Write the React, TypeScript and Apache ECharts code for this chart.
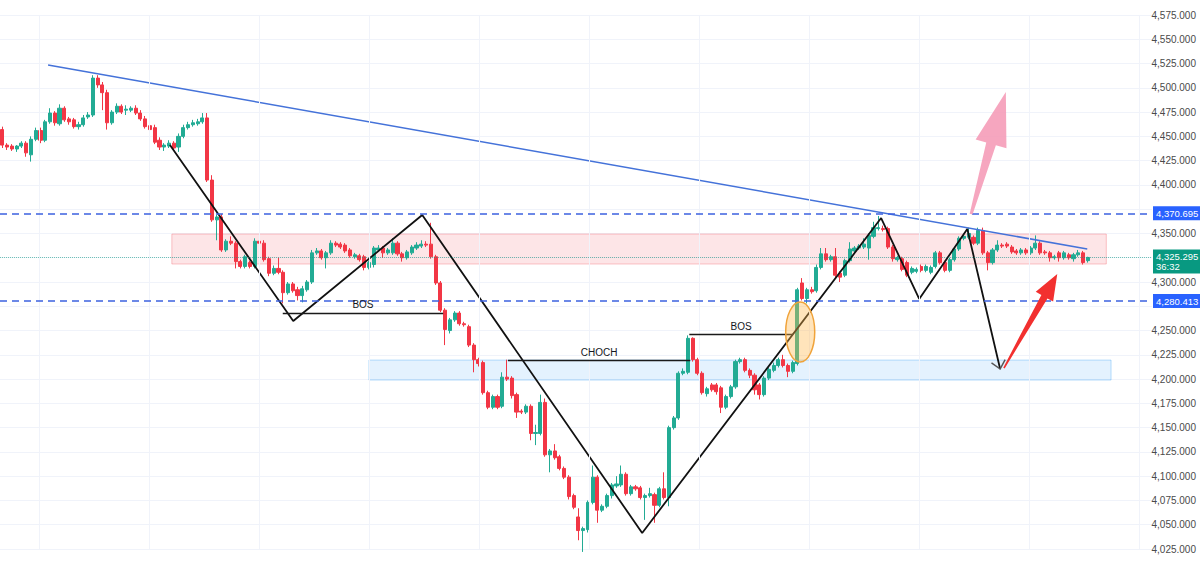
import React, { useEffect, useRef } from 'react';
import * as echarts from 'echarts';

// ---------------- DATA ----------------
const CATEGORY_COUNT = 242; // candle slots incl. right-side empty space

// candles: [open, close, low, high]
const segTop: number[][] = [
  [4457, 4441, 4438, 4460], [4441, 4439, 4436, 4443], [4440, 4437, 4435, 4442], [4437, 4440, 4434, 4441],
  [4440, 4443, 4438, 4445], [4443, 4433, 4429, 4445], [4431, 4447, 4424, 4450], [4447, 4456, 4445, 4459],
  [4456, 4446, 4443, 4459], [4446, 4465, 4444, 4467], [4465, 4474, 4463, 4479], [4474, 4464, 4461, 4476],
  [4463, 4479, 4461, 4483], [4479, 4467, 4465, 4481], [4468, 4465, 4462, 4470], [4467, 4460, 4458, 4469],
  [4460, 4462, 4457, 4465], [4462, 4469, 4460, 4472], [4470, 4472, 4468, 4475], [4472, 4510, 4470, 4513],
  [4510, 4503, 4500, 4513], [4503, 4495, 4477, 4506], [4495, 4464, 4457, 4498], [4464, 4475, 4462, 4477],
  [4475, 4481, 4473, 4484], [4481, 4475, 4473, 4483], [4477, 4478, 4472, 4482], [4477, 4479, 4475, 4481],
  [4479, 4474, 4472, 4482], [4474, 4468, 4466, 4477], [4468, 4460, 4458, 4471], [4461, 4457, 4454, 4463],
  [4459, 4444, 4442, 4462], [4446, 4439, 4436, 4449], [4439, 4441, 4435, 4443], [4440, 4443, 4438, 4446],
  [4443, 4438, 4436, 4445], [4439, 4450, 4434, 4453], [4450, 4459, 4448, 4462], [4459, 4462, 4457, 4465],
  [4462, 4464, 4460, 4467], [4463, 4465, 4461, 4468], [4465, 4469, 4463, 4474],
];
const segRange: number[][] = [
  [4469, 4405, 4403, 4474], [4405, 4364, 4362, 4410], [4364, 4367, 4343, 4369], [4367, 4333, 4331, 4370],
  [4333, 4342, 4331, 4344], [4342, 4340, 4338, 4347], [4340, 4321, 4314, 4342], [4321, 4316, 4314, 4323],
  [4316, 4326, 4314, 4328], [4320, 4316, 4314, 4322], [4316, 4342, 4314, 4345], [4342, 4340, 4337, 4351],
  [4340, 4323, 4321, 4343], [4324, 4309, 4306, 4326], [4309, 4314, 4307, 4317], [4314, 4310, 4308, 4325],
  [4310, 4289, 4278, 4312], [4289, 4298, 4287, 4300], [4298, 4291, 4289, 4300], [4292, 4286, 4281, 4295],
  [4286, 4293, 4279, 4296], [4292, 4300, 4290, 4302], [4300, 4330, 4298, 4333], [4330, 4332, 4328, 4335],
  [4332, 4325, 4323, 4334], [4325, 4330, 4314, 4332], [4330, 4340, 4328, 4343], [4340, 4338, 4336, 4342],
  [4339, 4336, 4334, 4341], [4338, 4332, 4330, 4340], [4333, 4327, 4325, 4335], [4326, 4328, 4324, 4330],
  [4327, 4323, 4321, 4329], [4326, 4315, 4312, 4328], [4315, 4320, 4313, 4322], [4318, 4335, 4315, 4337],
  [4333, 4335, 4331, 4338], [4335, 4330, 4325, 4337], [4330, 4333, 4328, 4335], [4330, 4340, 4328, 4345],
  [4340, 4329, 4327, 4342], [4329, 4325, 4321, 4331], [4325, 4331, 4323, 4333], [4330, 4336, 4328, 4338],
  [4335, 4338, 4333, 4341], [4337, 4339, 4335, 4343], [4339, 4338, 4336, 4342],
];
const segDrop: number[][] = [
  [4339, 4326, 4324, 4361], [4326, 4299, 4297, 4328], [4299, 4271, 4269, 4301], [4271, 4251, 4235, 4273],
  [4250, 4261, 4247, 4263], [4261, 4268, 4259, 4270], [4268, 4257, 4255, 4270], [4257, 4256, 4254, 4259],
  [4254, 4235, 4233, 4256], [4235, 4220, 4207, 4237], [4220, 4216, 4213, 4222], [4217, 4186, 4184, 4219],
  [4186, 4171, 4169, 4188], [4171, 4182, 4169, 4184], [4182, 4171, 4169, 4184], [4172, 4202, 4170, 4207],
  [4202, 4200, 4198, 4220], [4201, 4183, 4180, 4203], [4184, 4166, 4160, 4186], [4167, 4166, 4164, 4169],
  [4166, 4172, 4164, 4174], [4172, 4144, 4137, 4174], [4144, 4145, 4132, 4153], [4144, 4176, 4142, 4184],
  [4176, 4122, 4120, 4180], [4122, 4126, 4104, 4128], [4126, 4119, 4117, 4133], [4120, 4108, 4106, 4122],
  [4108, 4099, 4097, 4110], [4099, 4079, 4076, 4101], [4080, 4068, 4066, 4082], [4058, 4044, 4034, 4067],
];
const segRecovery: number[][] = [
  [4044, 4046, 4022, 4048], [4045, 4073, 4042, 4075], [4073, 4099, 4071, 4111], [4099, 4065, 4052, 4101],
  [4065, 4069, 4063, 4071], [4069, 4080, 4067, 4082], [4080, 4091, 4077, 4093], [4090, 4092, 4088, 4100],
  [4091, 4102, 4089, 4111], [4102, 4082, 4080, 4104], [4082, 4089, 4080, 4091], [4089, 4087, 4085, 4091],
  [4088, 4078, 4076, 4090], [4078, 4080, 4055, 4082], [4080, 4082, 4078, 4088], [4081, 4070, 4052, 4083],
  [4070, 4087, 4068, 4089], [4087, 4078, 4076, 4104], [4078, 4150, 4069, 4152], [4150, 4160, 4148, 4162],
  [4160, 4206, 4158, 4208], [4206, 4208, 4204, 4211], [4207, 4242, 4205, 4245], [4242, 4220, 4218, 4243],
  [4220, 4206, 4204, 4222], [4206, 4186, 4184, 4208], [4185, 4190, 4182, 4192], [4194, 4189, 4187, 4196],
  [4194, 4187, 4184, 4196], [4191, 4171, 4165, 4193], [4171, 4182, 4169, 4184], [4182, 4192, 4180, 4194],
  [4192, 4218, 4190, 4220], [4218, 4220, 4216, 4222], [4220, 4209, 4207, 4222], [4209, 4204, 4201, 4211],
  [4204, 4189, 4184, 4206], [4194, 4184, 4179, 4196], [4184, 4201, 4182, 4203], [4201, 4210, 4199, 4212],
  [4209, 4214, 4207, 4217], [4214, 4220, 4212, 4222], [4220, 4214, 4212, 4225], [4214, 4208, 4202, 4216],
  [4208, 4217, 4206, 4219],
];
const segConsolidation: number[][] = [
  [4216, 4292, 4214, 4294], [4299, 4283, 4281, 4304], [4283, 4292, 4278, 4294], [4292, 4290, 4288, 4295],
  [4291, 4315, 4289, 4318], [4315, 4329, 4313, 4335], [4329, 4323, 4321, 4335], [4323, 4326, 4321, 4328],
  [4326, 4307, 4305, 4335], [4309, 4305, 4300, 4311], [4307, 4322, 4305, 4324], [4322, 4334, 4320, 4341],
  [4332, 4335, 4330, 4337], [4335, 4337, 4333, 4339], [4336, 4339, 4334, 4345], [4335, 4348, 4323, 4350],
  [4347, 4356, 4345, 4362], [4355, 4356, 4353, 4368], [4355, 4354, 4352, 4358], [4355, 4336, 4334, 4357],
  [4336, 4324, 4321, 4338], [4323, 4325, 4321, 4327], [4324, 4313, 4311, 4326], [4320, 4307, 4305, 4322],
  [4310, 4314, 4308, 4316], [4311, 4313, 4309, 4315], [4316, 4312, 4310, 4318], [4312, 4316, 4310, 4318],
  [4310, 4315, 4308, 4317], [4316, 4330, 4314, 4332], [4330, 4320, 4318, 4332], [4320, 4312, 4310, 4322],
  [4312, 4323, 4310, 4325], [4323, 4334, 4321, 4336], [4334, 4345, 4332, 4347], [4345, 4347, 4343, 4349],
  [4346, 4350, 4344, 4356], [4346, 4340, 4338, 4348], [4340, 4353, 4338, 4356], [4353, 4330, 4328, 4356],
  [4330, 4320, 4312, 4332], [4320, 4333, 4318, 4335], [4333, 4338, 4331, 4343], [4338, 4337, 4335, 4340],
  [4339, 4337, 4335, 4341], [4336, 4331, 4329, 4338], [4332, 4330, 4328, 4334], [4330, 4333, 4328, 4335],
  [4333, 4330, 4328, 4335], [4330, 4335, 4328, 4337], [4335, 4340, 4333, 4348], [4340, 4330, 4328, 4342],
  [4331, 4330, 4328, 4333], [4330, 4325, 4321, 4332], [4325, 4326, 4323, 4328], [4330, 4325, 4321, 4332],
  [4325, 4330, 4323, 4332], [4328, 4325, 4323, 4330], [4324, 4328, 4321, 4330], [4328, 4330, 4326, 4333],
  [4330, 4320, 4318, 4332], [4322, 4325.295, 4320, 4326],
];
const candles = [...segTop, ...segRange, ...segDrop, ...segRecovery, ...segConsolidation];

// price axis
const Y_MIN = 4025;
const Y_MAX = 4575;
const Y_STEP = 25;
// tick labels that sit behind the price-scale boxes in the reference
const COVERED_TICKS = [4375, 4325, 4275];

// levels
const LEVEL_HIGH = 4370.695;
const LEVEL_LOW = 4280.413;
const LAST_PRICE = 4325.295;
const COUNTDOWN = '36:32';

// drawings: [candle index, price]
const TRENDLINE = [[9.6, 4523.5], [227.9, 4334.0]];
const ZIGZAG = [
  [35.2, 4441.1], [61.1, 4259.8], [88.2, 4369.0], [134.4, 4041.5],
  [184.6, 4365.9], [192.6, 4282.5], [202.7, 4354.6], [209.6, 4210.4],
];
const BOS_LEFT = { from: [58.9, 4268.1], to: [92.6, 4268.1], text: 'BOS' };
const CHOCH = { from: [106.2, 4219.6], to: [144.5, 4219.6], text: 'CHOCH' };
const BOS_RIGHT = { from: [144.3, 4246.4], to: [166.1, 4246.4], text: 'BOS' };
const PINK_ZONE = [[35.6, 4349.4], [231.9, 4318.5]];
const BLUE_ZONE = [[77.0, 4219.6], [232.9, 4199.0]];
const ELLIPSE = [[167.6, 4248.5, 3.05, 30.9]]; // center idx, center price, half-width idx, half-height price
const PINK_ARROW = [[203.5, 4370.0], [210.8, 4495.7]];
const RED_ARROW = [[210.4, 4211.4], [221.6, 4308.2]];
const V_GRID = [7.7, 30.8, 53.9, 77.0, 100.1, 123.2, 146.4, 169.5, 192.6, 215.7, 238.8];

// ---------------- STYLE ----------------
const FONT = '"Liberation Sans", Arial, sans-serif';
const UP = '#22ab94';
const DOWN = '#f23645';
const ARROW_STYLES = [
  { color: 'rgba(245,150,180,0.85)', head: 54, half: 16, neck: 5, tail: 1.5 },
  { color: '#f2302f', head: 26, half: 10, neck: 3.5, tail: 0.8 },
];

const fmt = (v: number) =>
  v.toLocaleString('en-US', { minimumFractionDigits: 3, maximumFractionDigits: 3 });

export default function App() {
  const ref = useRef<HTMLDivElement>(null);

  useEffect(() => {
    document.body.style.margin = '0';
    if (!ref.current) return;
    const chart = echarts.init(ref.current, undefined, { renderer: 'svg' });

    const categories = Array.from({ length: CATEGORY_COUNT }, (_, i) => String(i));

    const levelLabel = (text: string, bg: string) => ({
      show: true,
      position: 'end',
      distance: 1,
      formatter: text,
      color: '#ffffff',
      backgroundColor: bg,
      fontSize: 9.5,
      fontFamily: FONT,
      padding: [2, 3, 2, 3],
      lineHeight: 10,
    });

    const hSeg = (s: any) => [
      { coord: s.from, name: s.text },
      { coord: s.to },
    ];

    const option: any = {
      animation: false,
      backgroundColor: '#ffffff',
      textStyle: { fontFamily: FONT },
      grid: { left: 0, right: 48, top: 15, bottom: 22, containLabel: false },
      xAxis: [
        {
          type: 'category',
          data: categories,
          boundaryGap: true,
          show: false,
        },
        {
          type: 'value',
          min: -0.5,
          max: CATEGORY_COUNT - 0.5,
          show: false,
          splitLine: { show: false },
        },
      ],
      yAxis: {
        type: 'value',
        position: 'right',
        min: Y_MIN,
        max: Y_MAX,
        interval: Y_STEP,
        axisLine: { show: false },
        axisTick: { show: false },
        axisLabel: {
          color: '#4a4a4a',
          fontSize: 10,
          fontFamily: FONT,
          align: 'right',
          margin: 44,
          formatter: (v: number) => (COVERED_TICKS.indexOf(v) >= 0 ? '' : fmt(v)),
        },
        splitLine: { lineStyle: { color: '#f0f3fa', width: 1 } },
      },
      series: [
        {
          name: 'vgrid',
          type: 'line',
          xAxisIndex: 1,
          data: [],
          z: 0,
          silent: true,
          markLine: {
            silent: true,
            symbol: ['none', 'none'],
            label: { show: false },
            lineStyle: { color: '#f0f3fa', type: 'solid', width: 1 },
            data: V_GRID.map((v) => ({ xAxis: v })),
          },
        },
        {
          name: 'zones',
          type: 'line',
          xAxisIndex: 1,
          data: [],
          z: 1,
          silent: true,
          markArea: {
            silent: true,
            data: [
              [
                { coord: PINK_ZONE[0], itemStyle: { color: 'rgba(242,54,69,0.13)', borderColor: 'rgba(242,54,69,0.28)', borderWidth: 1 } },
                { coord: PINK_ZONE[1] },
              ],
              [
                { coord: BLUE_ZONE[0], itemStyle: { color: 'rgba(33,150,243,0.12)', borderColor: 'rgba(33,150,243,0.3)', borderWidth: 1 } },
                { coord: BLUE_ZONE[1] },
              ],
            ],
          },
        },
        {
          name: 'price',
          type: 'candlestick',
          xAxisIndex: 0,
          data: candles,
          barWidth: 3.6,
          clip: false,
          z: 2,
          itemStyle: {
            color: UP,
            color0: DOWN,
            borderColor: UP,
            borderColor0: DOWN,
            borderWidth: 1,
          },
        },
        {
          name: 'levels',
          type: 'line',
          xAxisIndex: 1,
          data: [],
          z: 3,
          clip: false,
          silent: true,
          markLine: {
            silent: true,
            symbol: ['none', 'none'],
            data: [
              {
                yAxis: LEVEL_HIGH,
                lineStyle: { color: '#3d62e0', type: [7, 5], width: 1.5 },
                label: levelLabel(fmt(LEVEL_HIGH), '#2962ff'),
              },
              {
                yAxis: LEVEL_LOW,
                lineStyle: { color: '#3d62e0', type: [7, 5], width: 1.5 },
                label: levelLabel(fmt(LEVEL_LOW), '#2962ff'),
              },
              {
                yAxis: LAST_PRICE,
                lineStyle: { color: 'rgba(8,153,129,0.55)', type: 'dotted', width: 1 },
                label: { ...levelLabel(fmt(LAST_PRICE) + '\n' + COUNTDOWN, '#089981'), offset: [0, 4] },
              },
            ],
          },
        },
        {
          name: 'trend',
          type: 'line',
          xAxisIndex: 1,
          data: TRENDLINE,
          symbol: 'none',
          z: 3,
          silent: true,
          lineStyle: { color: '#4472d9', width: 1.5 },
        },
        {
          name: 'zigzag',
          type: 'line',
          xAxisIndex: 1,
          data: ZIGZAG,
          symbol: 'none',
          z: 4,
          silent: true,
          clip: false,
          lineStyle: { color: '#111111', width: 1.8 },
          markLine: {
            silent: true,
            symbol: ['none', 'none'],
            lineStyle: { color: '#1a1a1a', type: 'solid', width: 1.4 },
            label: {
              show: true,
              position: 'middle',
              formatter: '{b}',
              color: '#131722',
              fontSize: 10,
              fontFamily: FONT,
              distance: 3,
            },
            data: [hSeg(BOS_LEFT), hSeg(CHOCH), hSeg(BOS_RIGHT)],
          },
        },
        {
          name: 'ellipse',
          type: 'custom',
          xAxisIndex: 1,
          z: 5,
          silent: true,
          clip: false,
          data: ELLIPSE,
          encode: { x: 0, y: 1 },
          renderItem: (params: any, api: any) => {
            const c = api.coord([api.value(0), api.value(1)]);
            const sz = api.size([api.value(2) * 2, api.value(3) * 2]);
            return {
              type: 'ellipse',
              shape: { cx: c[0], cy: c[1], rx: sz[0] / 2, ry: sz[1] / 2 },
              style: { fill: 'rgba(255,183,77,0.38)', stroke: '#f0a33a', lineWidth: 1.5 },
            };
          },
        },
        {
          name: 'arrows',
          type: 'custom',
          xAxisIndex: 1,
          z: 6,
          silent: true,
          clip: false,
          data: [
            [PINK_ARROW[0][0], PINK_ARROW[0][1], PINK_ARROW[1][0], PINK_ARROW[1][1]],
            [RED_ARROW[0][0], RED_ARROW[0][1], RED_ARROW[1][0], RED_ARROW[1][1]],
          ],
          encode: { x: [0, 2], y: [1, 3] },
          renderItem: (params: any, api: any) => {
            const s = api.coord([api.value(0), api.value(1)]);
            const t = api.coord([api.value(2), api.value(3)]);
            const st = ARROW_STYLES[params.dataIndex];
            const dx = t[0] - s[0];
            const dy = t[1] - s[1];
            const len = Math.hypot(dx, dy) || 1;
            const ux = dx / len;
            const uy = dy / len;
            const px = -uy;
            const py = ux;
            const bx = t[0] - ux * st.head;
            const by = t[1] - uy * st.head;
            const pts = [
              [s[0] + px * st.tail, s[1] + py * st.tail],
              [bx + px * st.neck, by + py * st.neck],
              [bx + px * st.half, by + py * st.half],
              [t[0], t[1]],
              [bx - px * st.half, by - py * st.half],
              [bx - px * st.neck, by - py * st.neck],
              [s[0] - px * st.tail, s[1] - py * st.tail],
            ];
            return { type: 'polygon', shape: { points: pts }, style: { fill: st.color } };
          },
        },
        {
          name: 'zigzagHead',
          type: 'custom',
          xAxisIndex: 1,
          z: 6,
          silent: true,
          clip: false,
          data: [[
            ZIGZAG[ZIGZAG.length - 2][0], ZIGZAG[ZIGZAG.length - 2][1],
            ZIGZAG[ZIGZAG.length - 1][0], ZIGZAG[ZIGZAG.length - 1][1],
          ]],
          encode: { x: [0, 2], y: [1, 3] },
          renderItem: (params: any, api: any) => {
            const s = api.coord([api.value(0), api.value(1)]);
            const t = api.coord([api.value(2), api.value(3)]);
            const dx = t[0] - s[0];
            const dy = t[1] - s[1];
            const len = Math.hypot(dx, dy) || 1;
            const ux = dx / len;
            const uy = dy / len;
            const px = -uy;
            const py = ux;
            const bx = t[0] - ux * 8;
            const by = t[1] - uy * 8;
            return {
              type: 'polyline',
              shape: { points: [[bx + px * 7, by + py * 7], [t[0], t[1]], [bx - px * 7, by - py * 7]] },
              style: { stroke: '#555555', lineWidth: 1.5, fill: 'none' },
            };
          },
        },
      ],
    };

    chart.setOption(option);
    return () => chart.dispose();
  }, []);

  return <div ref={ref} style={{ width: 1200, height: 571 }} />;
}
